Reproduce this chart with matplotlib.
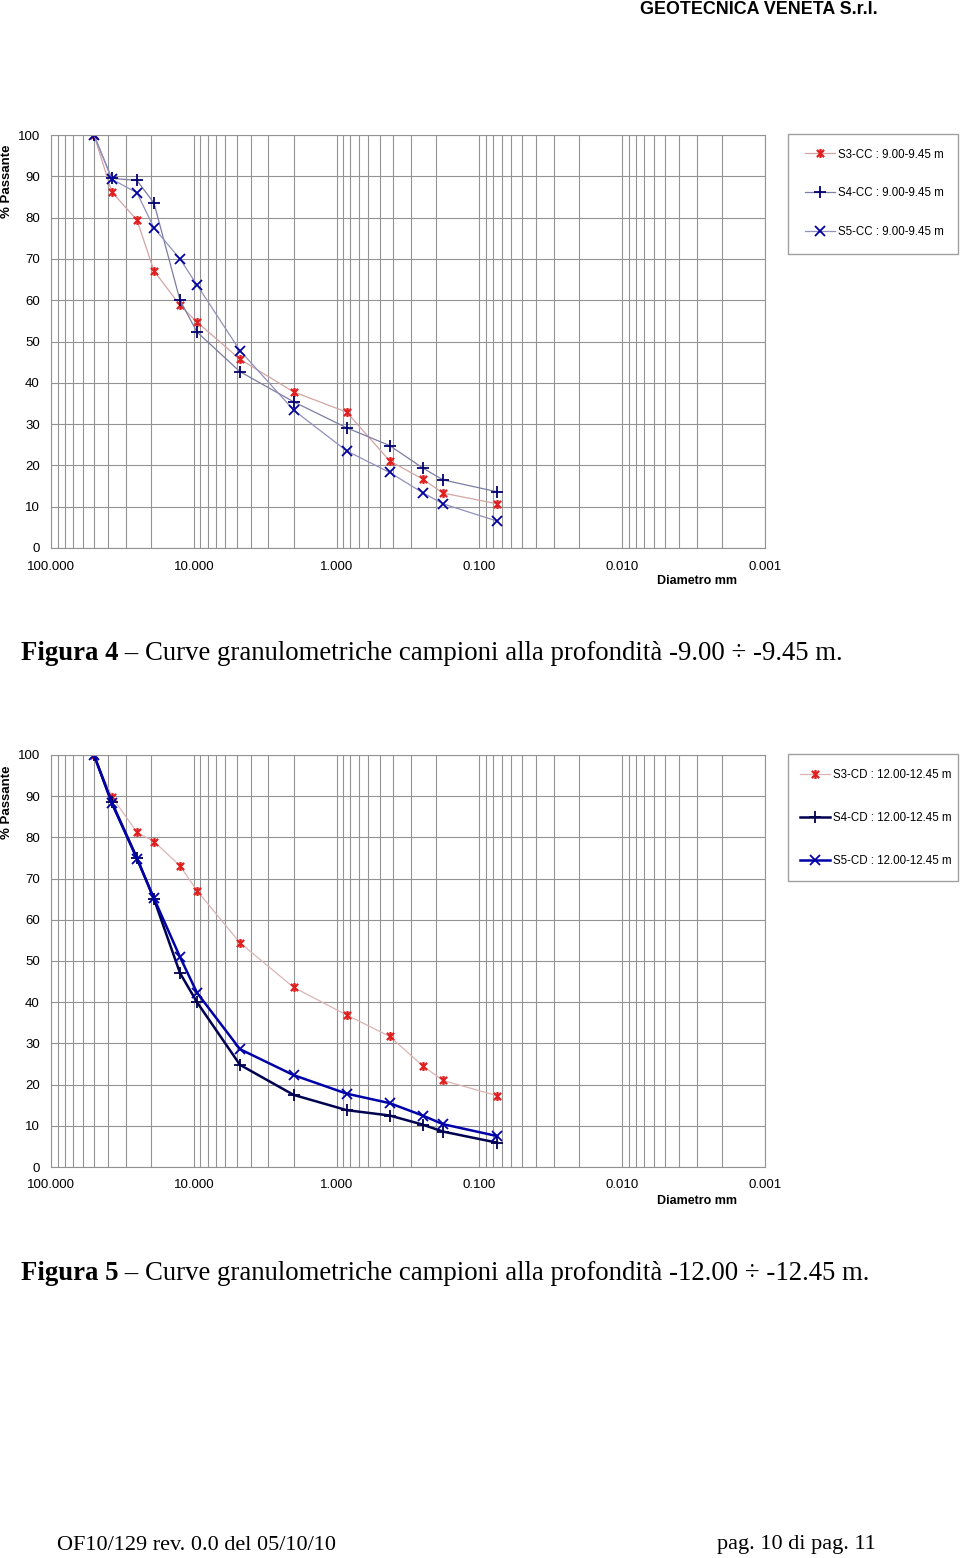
import numpy as np
import matplotlib.pyplot as plt
from matplotlib.path import Path
from matplotlib.patches import Rectangle
from matplotlib.ticker import FixedLocator, NullFormatter

# Sieve diameters (mm)
diam = [50, 37.5, 25, 19, 12.5, 9.5, 4.75, 2, 0.85, 0.425, 0.25, 0.18, 0.075]

# Figura 4 - depth 9.00-9.45 m
s3_cc = [100, 86.2, 79.4, 67.1, 58.8, 54.7, 45.7, 37.8, 32.9, 21.1, 16.7, 13.3, 10.7]
s4_cc = [100, 89.5, 89.0, 83.5, 60.0, 52.3, 42.7, 35.4, 29.1, 24.8, 19.4, 16.5, 13.6]
s5_cc = [100, 89.3, 86.0, 77.5, 70.0, 63.7, 47.8, 33.4, 23.5, 18.3, 13.4, 10.7, 6.5]

# Figura 5 - depth 12.00-12.45 m
s3_cd = [100, 89.9, 81.2, 79.0, 73.1, 67.1, 54.4, 43.6, 36.9, 31.7, 24.6, 21.0, 17.3]
s4_cd = [100, 88.5, 75.0, 65.0, 47.1, 40.0, 24.8, 17.5, 13.8, 12.5, 10.3, 8.6, 5.9]
s5_cd = [100, 88.3, 74.8, 65.2, 51.0, 42.3, 28.6, 22.3, 17.8, 15.5, 12.5, 10.4, 7.5]

xticks = [100, 10, 1, 0.1, 0.01, 0.001]
xticklabels = ["100.000", "10.000", "1.000", "0.100", "0.010", "0.001"]

labels_cc = ["S3-CC : 9.00-9.45 m", "S4-CC : 9.00-9.45 m", "S5-CC : 9.00-9.45 m"]
labels_cd = ["S3-CD : 12.00-12.45 m", "S4-CD : 12.00-12.45 m", "S5-CD : 12.00-12.45 m"]

plt.rcParams['font.family'] = ['Liberation Sans', 'DejaVu Sans']

# asterisk marker: x with a vertical bar
star = Path([(-1, -1), (1, 1), (-1, 1), (1, -1), (0, -1.25), (0, 1.25)],
            [Path.MOVETO, Path.LINETO, Path.MOVETO, Path.LINETO, Path.MOVETO, Path.LINETO])

W, H = 960, 1558
fig = plt.figure(figsize=(W / 100, H / 100), dpi=100)
grid_col = '#939393'


def setup_axes(ax):
    ax.set_xscale('log')
    ax.set_xlim(100, 0.001)
    ax.set_ylim(0, 100)
    ax.xaxis.set_major_locator(FixedLocator(xticks))
    minors = [m * 10.0 ** e for e in range(-3, 2) for m in range(2, 10)]
    ax.xaxis.set_minor_locator(FixedLocator(minors))
    ax.xaxis.set_minor_formatter(NullFormatter())
    ax.set_xticklabels(xticklabels)
    ax.set_yticks(range(0, 101, 10))
    ax.grid(True, which='both', axis='x', color=grid_col, lw=0.8)
    ax.grid(True, which='major', axis='y', color=grid_col, lw=0.8)
    ax.tick_params(which='both', length=0, labelsize=9.5)
    ax.tick_params(axis='x', pad=9)
    ax.tick_params(axis='y', pad=8)
    for s in ax.spines.values():
        s.set_color(grid_col)
        s.set_linewidth(0.8)
    ax.set_axisbelow(True)


def draw_legend(ax, box, handle_x, first_y, spacing):
    # box = (left, top, right, bottom) in pixels
    l, t, r, b = box
    fig.patches.append(Rectangle((l / W, 1 - b / H), (r - l) / W, (b - t) / H,
                                 transform=fig.transFigure, fill=False,
                                 edgecolor='#a0a0a0', lw=1.0))
    fig.legend(*ax.get_legend_handles_labels(), loc='upper left',
               bbox_to_anchor=(handle_x / W, 1 - (first_y - 6.5) / H),
               bbox_transform=fig.transFigure,
               fontsize=8.3, frameon=False, borderpad=0, labelspacing=spacing,
               handlelength=2.6, handletextpad=0.3, numpoints=1, borderaxespad=0)


# ---- Figura 4 ----
ax1 = fig.add_axes([51 / W, 1 - 548 / H, 714 / W, 413 / H])
setup_axes(ax1)
ax1.plot(diam, s3_cc, color='#d4a4a4', lw=0.9, marker=star, ms=6.5, mec='#e02020',
         mfc='none', mew=1.6, label=labels_cc[0])
ax1.plot(diam, s4_cc, color='#7c7ca4', lw=0.9, marker='+', ms=8, mec='#000070',
         mew=1.3, label=labels_cc[1])
ax1.plot(diam, s5_cc, color='#9090bc', lw=0.9, marker='x', ms=7, mec='#0000a0',
         mew=1.3, label=labels_cc[2])
draw_legend(ax1, (788, 134, 958, 254), 805, 155, 2.33)

# ---- Figura 5 ----
ax2 = fig.add_axes([51 / W, 1 - 1167 / H, 714 / W, 412 / H])
setup_axes(ax2)
ax2.plot(diam, s3_cd, color='#dcb4b4', lw=0.9, marker=star, ms=6.5, mec='#e02020',
         mfc='none', mew=1.6, label=labels_cd[0])
ax2.plot(diam, s4_cd, color='#000050', lw=1.8, marker='+', ms=8, mec='#000050',
         mew=1.3, label=labels_cd[1])
ax2.plot(diam, s5_cd, color='#0000a8', lw=1.8, marker='x', ms=7, mec='#0000a8',
         mew=1.3, label=labels_cd[2])
draw_legend(ax2, (788, 754, 958, 881), 800, 776, 2.68)

# axis titles
for yc, xc in [(181, 581), (802, 1201)]:
    fig.text(7 / W, 1 - yc / H, "% Passante", rotation=90, ha='center', va='center',
             fontsize=9.5, fontweight='bold')
    fig.text(697 / W, 1 - xc / H, "Diametro mm", ha='center', va='center',
             fontsize=9, fontweight='bold')

# header / footer
fig.text(878 / W, 1 - 10 / H, "GEOTECNICA VENETA S.r.l.", ha='right', va='center',
         fontsize=12.9, fontweight='bold')
serif = ['Liberation Serif', 'DejaVu Serif']
fig.text(57 / W, 1 - 1545 / H, "OF10/129 rev. 0.0 del 05/10/10", ha='left', va='center',
         fontsize=16, family=serif)
fig.text(876 / W, 1 - 1545 / H, "pag. 10 di pag. 11", ha='right', va='center',
         fontsize=16, family=serif)

# captions
fig.canvas.draw()
renderer = fig.canvas.get_renderer()
captions = [(653, "Figura 4", " \u2013 Curve granulometriche campioni alla profondità -9.00 \u00f7 -9.45 m."),
            (1273, "Figura 5", " \u2013 Curve granulometriche campioni alla profondità -12.00 \u00f7 -12.45 m.")]
for yc, bold_part, rest in captions:
    t = fig.text(21 / W, 1 - yc / H, bold_part, ha='left', va='center', fontsize=19.3,
                 fontweight='bold', family=serif)
    bb = t.get_window_extent(renderer)
    fig.text(bb.x1 / W, 1 - yc / H, rest, ha='left', va='center', fontsize=19.3,
             family=serif)

fig.savefig("out.png", dpi=100)
